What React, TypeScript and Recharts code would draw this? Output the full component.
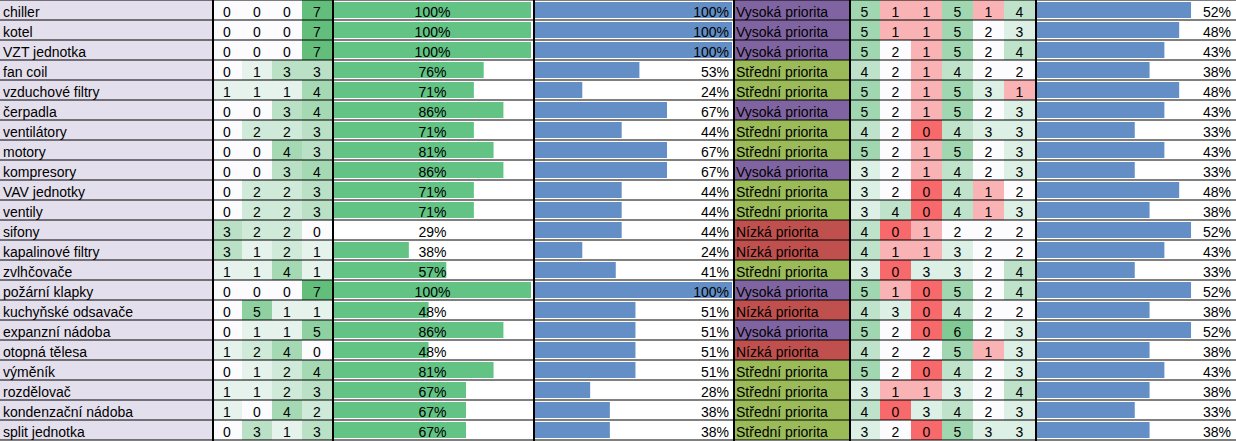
import { BarChart, Bar, XAxis, YAxis, Cell, LabelList, ReferenceLine } from 'recharts'

const names = [
  'chiller', 'kotel', 'VZT jednotka', 'fan coil', 'vzduchové filtry', 'čerpadla', 'ventilátory',
  'motory', 'kompresory', 'VAV jednotky', 'ventily', 'sifony', 'kapalinové filtry', 'zvlhčovače',
  'požární klapky', 'kuchyňské odsavače', 'expanzní nádoba', 'otopná tělesa', 'výměník',
  'rozdělovač', 'kondenzační nádoba', 'split jednotka',
]

// first block of counts (green scale)
const left1 = [0, 0, 0, 0, 1, 0, 0, 0, 0, 0, 0, 3, 3, 1, 0, 0, 0, 1, 0, 1, 1, 0]
const left2 = [0, 0, 0, 1, 1, 0, 2, 0, 0, 2, 2, 2, 1, 1, 0, 5, 1, 2, 1, 1, 0, 3]
const left3 = [0, 0, 0, 3, 1, 3, 2, 4, 3, 2, 2, 2, 2, 4, 0, 1, 1, 4, 2, 2, 4, 1]
const left4 = [7, 7, 7, 3, 4, 4, 3, 3, 4, 3, 3, 0, 1, 1, 7, 1, 5, 0, 4, 3, 2, 3]

const greenPct = [100, 100, 100, 76, 71, 86, 71, 81, 86, 71, 71, 29, 38, 57, 100, 48, 86, 48, 81, 67, 67, 67]
const greenNoBar = ['sifony'] // no data bar drawn in the sheet for this row
const bluePct = [100, 100, 100, 53, 24, 67, 44, 67, 67, 44, 44, 44, 24, 41, 100, 51, 51, 51, 51, 28, 38, 38]

const priority = [
  'Vysoká priorita', 'Vysoká priorita', 'Vysoká priorita', 'Střední priorita', 'Střední priorita',
  'Vysoká priorita', 'Střední priorita', 'Střední priorita', 'Vysoká priorita', 'Střední priorita',
  'Střední priorita', 'Nízká priorita', 'Nízká priorita', 'Střední priorita', 'Vysoká priorita',
  'Nízká priorita', 'Vysoká priorita', 'Nízká priorita', 'Střední priorita', 'Střední priorita',
  'Střední priorita', 'Střední priorita',
]

// second block of scores (red-white-green scale)
const right1 = [5, 5, 5, 4, 5, 5, 4, 5, 3, 3, 3, 4, 4, 3, 5, 4, 5, 4, 5, 3, 4, 3]
const right2 = [1, 1, 2, 2, 2, 2, 2, 2, 2, 2, 4, 0, 1, 0, 1, 3, 2, 2, 2, 1, 0, 2]
const right3 = [1, 1, 1, 1, 1, 1, 0, 1, 1, 0, 0, 1, 1, 3, 0, 0, 0, 2, 0, 1, 3, 0]
const right4 = [5, 5, 5, 4, 5, 5, 4, 5, 4, 4, 4, 2, 3, 3, 5, 4, 6, 5, 4, 3, 4, 5]
const right5 = [1, 2, 2, 2, 3, 2, 3, 2, 2, 1, 1, 2, 2, 2, 2, 2, 2, 1, 2, 2, 2, 3]
const right6 = [4, 3, 4, 2, 1, 3, 3, 3, 3, 2, 3, 2, 2, 4, 4, 2, 3, 3, 3, 4, 3, 3]

const lastPct = [52, 48, 43, 38, 48, 43, 33, 43, 33, 48, 38, 52, 43, 33, 52, 38, 52, 38, 43, 38, 33, 38]

const rows = names.map((name, i) => ({
  name,
  l1: left1[i], l2: left2[i], l3: left3[i], l4: left4[i],
  green: greenPct[i],
  greenBar: greenNoBar.includes(name) ? 0 : greenPct[i],
  blue: bluePct[i],
  prio: priority[i],
  r1: right1[i], r2: right2[i], r3: right3[i], r4: right4[i], r5: right5[i], r6: right6[i],
  last: lastPct[i],
}))

const FONT = '"Liberation Sans", Arial, sans-serif'
const H = 441
const LAST_MAX = 66.5

const PRIO_COLORS: Record<string, string> = {
  'Vysoká priorita': '#8064A2',
  'Střední priorita': '#9BBB59',
  'Nízká priorita': '#C0504D',
}

function mix(a: string, b: string, t: number) {
  const pa = [1, 3, 5].map(k => parseInt(a.slice(k, k + 2), 16))
  const pb = [1, 3, 5].map(k => parseInt(b.slice(k, k + 2), 16))
  return `rgb(${pa.map((v, i) => Math.round(v + (pb[i] - v) * t)).join(',')})`
}

const WHITE = '#FCFCFF'
const GREEN = '#63BE7B'
const RED = '#F8696B'
const greenScale = (v: number) => mix(WHITE, GREEN, v / 7)
const rwgScale = (v: number) => (v <= 2 ? mix(RED, WHITE, v / 2) : mix(WHITE, GREEN, (v - 2) / 5))

function cellText(align: 'start' | 'middle' | 'end', suffix = '') {
  return (p: any) => {
    const vb = p.viewBox ?? p
    const x = align === 'start' ? vb.x + 3 : align === 'end' ? vb.x + vb.width - 3 : vb.x + vb.width / 2
    return (
      <text x={x} y={vb.y + vb.height / 2 + 2} textAnchor={align} dominantBaseline="central"
        fill="#000" fontSize={14} fontFamily={FONT}>
        {p.value}{suffix}
      </text>
    )
  }
}

function TextColumn({ left, width, labelKey, fill }: { left: number; width: number; labelKey: string; fill: (r: any) => string }) {
  return (
    <div style={{ position: 'absolute', left, top: 0 }}>
      <BarChart width={width} height={H} data={rows} layout="vertical" barCategoryGap={0}
        margin={{ top: 0, right: 0, bottom: 1, left: 0 }}>
        <XAxis type="number" hide domain={[0, 1]} />
        <YAxis type="category" dataKey="name" hide />
        <Bar dataKey={() => 1} isAnimationActive={false}>
          {rows.map((r, i) => <Cell key={i} fill={fill(r)} />)}
          <LabelList dataKey={labelKey} content={cellText('start')} />
        </Bar>
      </BarChart>
    </div>
  )
}

function HeatColumns({ left, cellW, keys, color }: { left: number; cellW: number; keys: string[]; color: (v: number) => string }) {
  return (
    <div style={{ position: 'absolute', left, top: 0 }}>
      <BarChart width={cellW * keys.length} height={H} data={rows} layout="vertical" barCategoryGap={0}
        margin={{ top: 0, right: 0, bottom: 1, left: 0 }}>
        <XAxis type="number" hide domain={[0, keys.length]} />
        <YAxis type="category" dataKey="name" hide />
        {keys.map(k => (
          <Bar key={k} dataKey={() => 1} stackId="s" isAnimationActive={false}>
            {rows.map((r: any, i) => <Cell key={i} fill={color(r[k])} />)}
            <LabelList dataKey={k} content={cellText('middle')} />
          </Bar>
        ))}
      </BarChart>
    </div>
  )
}

function DataBarColumn({ left, width, barKey, labelKey, max, color, align }:
  { left: number; width: number; barKey: string; labelKey: string; max: number; color: string; align: 'middle' | 'end' }) {
  return (
    <div style={{ position: 'absolute', left, top: 0 }}>
      <BarChart width={width} height={H} data={rows} layout="vertical" barSize={16} barGap={-16}
        margin={{ top: 0, right: width - 200 + 1, bottom: 1, left: 2 }}>
        <XAxis type="number" hide domain={[0, max]} />
        <YAxis type="category" dataKey="name" hide />
        <Bar dataKey={barKey} fill={color} isAnimationActive={false} />
        <Bar dataKey={() => max} fill="none" isAnimationActive={false}>
          <LabelList dataKey={labelKey} content={cellText(align, '%')} />
        </Bar>
      </BarChart>
    </div>
  )
}

const BOUNDS = [212, 332, 533, 733, 849, 1035]

export default function App() {
  return (
    <div style={{ position: 'absolute', left: 0, top: 0, width: 1236, height: H, background: '#fff', overflow: 'hidden' }}>
      <TextColumn left={0} width={212} labelKey="name" fill={() => '#E4DFEC'} />
      <HeatColumns left={212} cellW={30} keys={['l1', 'l2', 'l3', 'l4']} color={greenScale} />
      <DataBarColumn left={332} width={201} barKey="greenBar" labelKey="green" max={100} color="#63C384" align="middle" />
      <DataBarColumn left={533} width={200} barKey="blue" labelKey="blue" max={100} color="#638EC6" align="end" />
      <TextColumn left={733} width={116} labelKey="prio" fill={r => PRIO_COLORS[r.prio]} />
      <HeatColumns left={849} cellW={31} keys={['r1', 'r2', 'r3', 'r4', 'r5', 'r6']} color={rwgScale} />
      <DataBarColumn left={1035} width={201} barKey="last" labelKey="last" max={LAST_MAX} color="#638EC6" align="end" />

      <div style={{ position: 'absolute', left: 0, top: -0.5, pointerEvents: 'none' }}>
        <BarChart width={1236} height={H} data={rows} layout="vertical" margin={{ top: 0, right: 0, bottom: 1, left: 0 }}>
          <XAxis type="number" hide domain={[0, 1]} />
          <YAxis type="category" dataKey="name" hide />
          <Bar dataKey={() => 0} fill="none" isAnimationActive={false} />
          {names.map(n => (
            <ReferenceLine key={n} y={n} position="start" stroke="#000" strokeWidth={1} ifOverflow="extendDomain" />
          ))}
          <ReferenceLine key="end" y={names[names.length - 1]} position="end" stroke="#000" strokeWidth={1} ifOverflow="extendDomain" />
        </BarChart>
      </div>
      {BOUNDS.map(b => (
        <div key={b} style={{ position: 'absolute', left: b, top: 0, width: 2, height: H, background: '#000' }} />
      ))}
    </div>
  )
}
